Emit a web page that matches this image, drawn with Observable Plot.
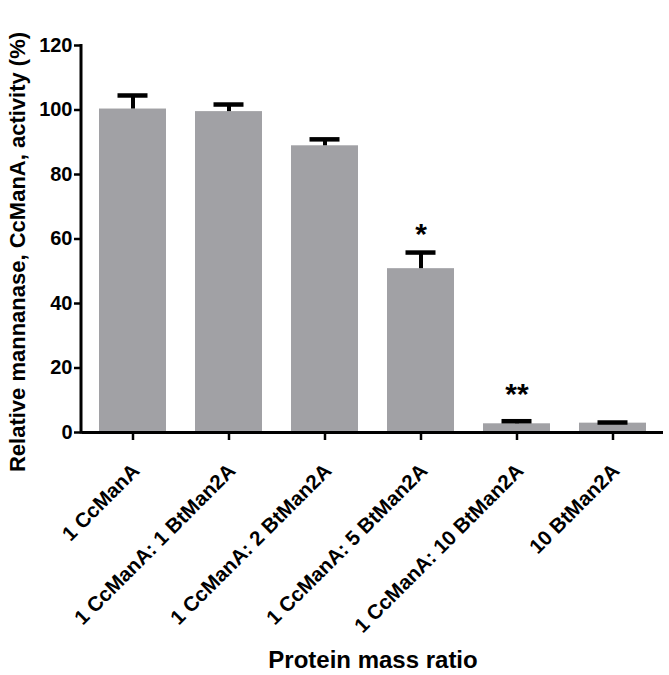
<!DOCTYPE html>
<html>
<head>
<meta charset="utf-8">
<script src="https://cdn.jsdelivr.net/npm/d3@7"></script>
<script src="https://cdn.jsdelivr.net/npm/@observablehq/plot@0.6"></script>
<style>
  html, body { margin: 0; padding: 0; background: #fff; }
</style>
</head>
<body>
<div id="chart"></div>
<script>
const categories = ["1 CcManA", "1 CcManA: 1 BtMan2A", "1 CcManA: 2 BtMan2A", "1 CcManA: 5 BtMan2A", "1 CcManA: 10 BtMan2A", "10 BtMan2A"];
const values = [100.3, 99.5, 88.9, 50.8, 2.7, 2.9];
const errors = [4.2, 2.2, 2.0, 5.0, 0.8, 0.2];
const yTicks = [0, 20, 40, 60, 80, 100, 120];
const starCategories = ["1 CcManA: 5 BtMan2A", "1 CcManA: 10 BtMan2A"];
const starLabels = ["*", "**"];
const starY = [63.3, 13.8];
const yTitle = "Relative mannanase, CcManA, activity (%)";
const xTitle = "Protein mass ratio";

const data = categories.map((c, i) => ({cat: c, v: values[i], e: values[i] + errors[i]}));
const stars = starCategories.map((c, i) => ({cat: c, label: starLabels[i], y: starY[i]}));

const font = "Arial, 'Liberation Sans', Helvetica, sans-serif";

// y-axis domain line drawn from the y scale at the left edge of the frame
function yAxisLine(...args) {
  const scales = args.find(a => a && typeof a.y === "function");
  const dims = args.find(a => a && a.marginLeft !== undefined && a.width !== undefined);
  const [y0, y1] = scales.y.domain();
  const line = document.createElementNS("http://www.w3.org/2000/svg", "line");
  const x = dims.marginLeft - 1;
  line.setAttribute("x1", x);
  line.setAttribute("x2", x);
  line.setAttribute("y1", scales.y(y0) + 1.5);
  line.setAttribute("y2", scales.y(y1) - 1);
  line.setAttribute("stroke", "#000");
  line.setAttribute("stroke-width", 3);
  return line;
}

const chart = Plot.plot({
  width: 669,
  height: 675,
  marginLeft: 82,
  marginRight: 6,
  marginTop: 45,
  marginBottom: 243,
  style: {fontFamily: font, fontWeight: "bold", color: "#000", background: "#fff"},
  x: {domain: categories, paddingInner: 0.3, paddingOuter: 0.15, axis: null},
  y: {domain: [0, 120], axis: null},
  marks: [
    Plot.barY(data, {x: "cat", y: "v", fill: "#a1a1a5"}),
    Plot.ruleX(data, {x: "cat", y1: "v", y2: "e", stroke: "#000", strokeWidth: 4}),
    Plot.tickY(data, {x: "cat", y: "e", stroke: "#000", strokeWidth: 4.5, insetLeft: 18.5, insetRight: 18.5}),
    Plot.text(stars, {x: "cat", y: "y", text: "label", fontSize: 30, fill: "#000", lineAnchor: "middle", dy: 6, letterSpacing: 2}),
    Plot.axisY({ticks: yTicks, tickSize: 8, tickPadding: 2, fontSize: 20, strokeWidth: 2.5, stroke: "#000", label: null, tickFormat: d => String(d)}),
    Plot.axisX({tickSize: 8, strokeWidth: 2.5, stroke: "#000", label: null, tickFormat: () => ""}),
    Plot.text(categories, {x: d => d, frameAnchor: "bottom", text: d => d, rotate: -45, textAnchor: "end", lineAnchor: "middle", dx: 3, dy: 35, fontSize: 20.5, fill: "#000"}),
    Plot.ruleY([0], {stroke: "#000", strokeWidth: 3}),
    yAxisLine,
    Plot.text([yTitle], {frameAnchor: "left", textAnchor: "middle", rotate: -90, dx: -65, dy: 13, fontSize: 22, fill: "#000"}),
    Plot.text([xTitle], {frameAnchor: "bottom", textAnchor: "middle", lineAnchor: "middle", dy: 228, fontSize: 24, fill: "#000"})
  ]
});
document.getElementById("chart").appendChild(chart);
</script>
</body>
</html>
